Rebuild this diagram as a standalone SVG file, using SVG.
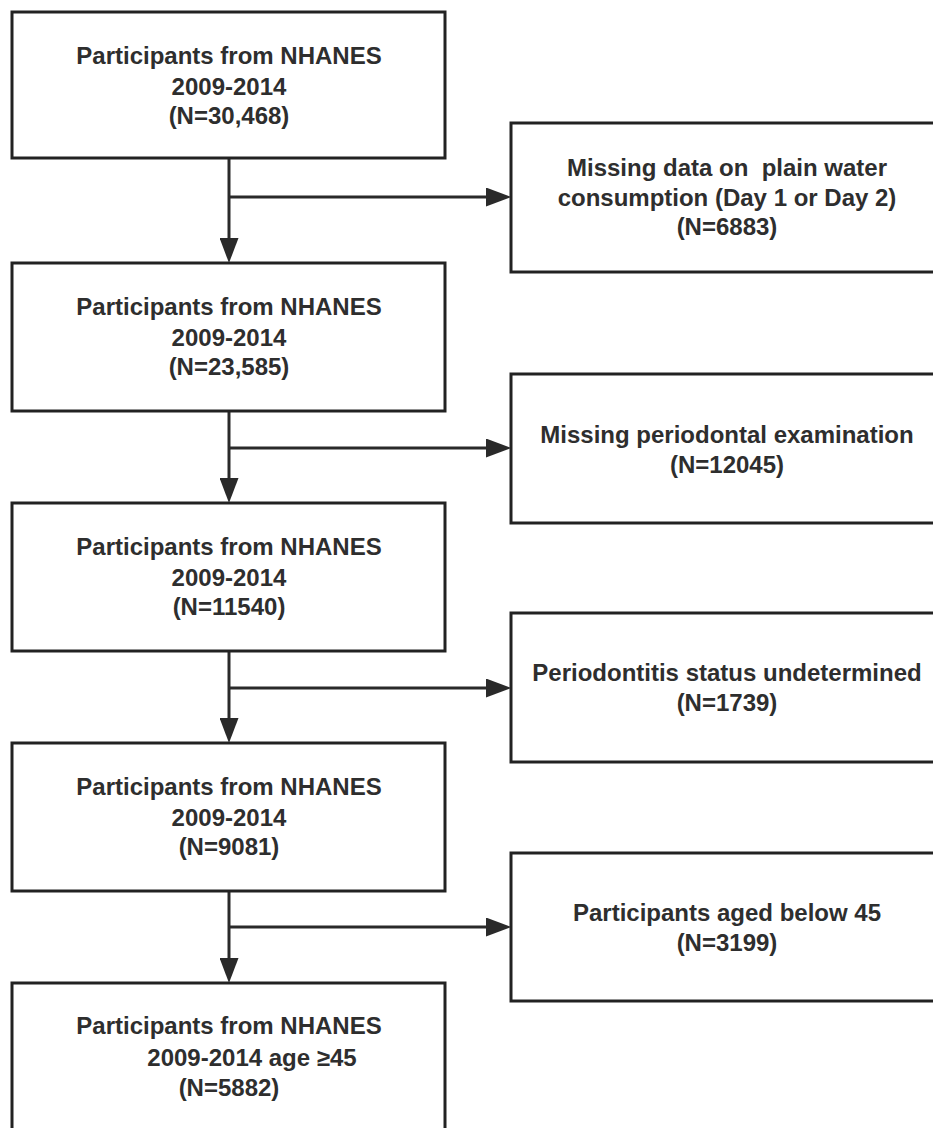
<svg xmlns="http://www.w3.org/2000/svg" width="933" height="1128" viewBox="0 0 933 1128">
<defs>
<style>
.box{fill:#ffffff;stroke:#222222;stroke-width:3}
.lbl{font-family:"Liberation Sans",Arial,sans-serif;font-weight:bold;font-size:24px;fill:#2e2e2e;text-anchor:middle;white-space:pre}
.con{stroke:#2a2a2a;stroke-width:3;fill:none}
</style>
<marker id="ah" viewBox="0 0 25 19" refX="15" refY="9.5" markerWidth="25" markerHeight="19" markerUnits="userSpaceOnUse" orient="auto">
<path d="M0,0 L25,9.5 L0,19 Z" fill="#2a2a2a"/>
</marker>
</defs>
<rect width="933" height="1128" fill="#ffffff"/>
<g id="connectors">
<line class="con" x1="229" y1="158" x2="229" y2="253" marker-end="url(#ah)"/>
<line class="con" x1="229" y1="197" x2="501" y2="197" marker-end="url(#ah)"/>
<line class="con" x1="229" y1="411" x2="229" y2="493" marker-end="url(#ah)"/>
<line class="con" x1="229" y1="448" x2="501" y2="448" marker-end="url(#ah)"/>
<line class="con" x1="229" y1="651" x2="229" y2="733" marker-end="url(#ah)"/>
<line class="con" x1="229" y1="688" x2="501" y2="688" marker-end="url(#ah)"/>
<line class="con" x1="229" y1="891" x2="229" y2="973" marker-end="url(#ah)"/>
<line class="con" x1="229" y1="927" x2="501" y2="927" marker-end="url(#ah)"/>
</g>
<g id="n1">
<rect class="box" x="12" y="12" width="433" height="146"/>
<text class="lbl" x="229" y="64">Participants from NHANES</text>
<text class="lbl" x="229" y="95">2009-2014</text>
<text class="lbl" x="229" y="124">(N=30,468)</text>
</g>
<g id="n2">
<rect class="box" x="12" y="263" width="433" height="148"/>
<text class="lbl" x="229" y="315">Participants from NHANES</text>
<text class="lbl" x="229" y="346">2009-2014</text>
<text class="lbl" x="229" y="375">(N=23,585)</text>
</g>
<g id="n3">
<rect class="box" x="12" y="503" width="433" height="148"/>
<text class="lbl" x="229" y="555">Participants from NHANES</text>
<text class="lbl" x="229" y="586">2009-2014</text>
<text class="lbl" x="229" y="615">(N=11540)</text>
</g>
<g id="n4">
<rect class="box" x="12" y="743" width="433" height="148"/>
<text class="lbl" x="229" y="795">Participants from NHANES</text>
<text class="lbl" x="229" y="826">2009-2014</text>
<text class="lbl" x="229" y="855">(N=9081)</text>
</g>
<g id="n5">
<rect class="box" x="12" y="983" width="433" height="160"/>
<text class="lbl" x="229" y="1034">Participants from NHANES</text>
<text class="lbl" x="252" y="1066">2009-2014 age ≥45</text>
<text class="lbl" x="229" y="1096">(N=5882)</text>
</g>
<g id="e1">
<rect class="box" x="511" y="123" width="432" height="149"/>
<text class="lbl" x="727" y="176">Missing data on  plain water</text>
<text class="lbl" x="727" y="206">consumption (Day 1 or Day 2)</text>
<text class="lbl" x="727" y="235">(N=6883)</text>
</g>
<g id="e2">
<rect class="box" x="511" y="374" width="432" height="149"/>
<text class="lbl" x="727" y="443">Missing periodontal examination</text>
<text class="lbl" x="727" y="473">(N=12045)</text>
</g>
<g id="e3">
<rect class="box" x="511" y="613" width="432" height="149"/>
<text class="lbl" x="727" y="681">Periodontitis status undetermined</text>
<text class="lbl" x="727" y="711">(N=1739)</text>
</g>
<g id="e4">
<rect class="box" x="511" y="853" width="432" height="148"/>
<text class="lbl" x="727" y="921">Participants aged below 45</text>
<text class="lbl" x="727" y="951">(N=3199)</text>
</g>
</svg>
